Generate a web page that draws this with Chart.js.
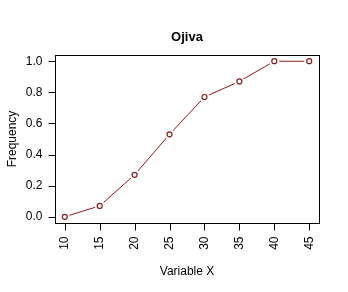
<!DOCTYPE html>
<html>
<head>
<meta charset="utf-8">
<script src="https://cdn.jsdelivr.net/npm/chart.js@4.4.1/dist/chart.umd.min.js"></script>
<style>
  html, body { margin: 0; padding: 0; background: #fff; }
  #wrap { width: 348px; height: 292px; }
</style>
</head>
<body>
<div id="wrap"><canvas id="ojiva" width="348" height="292"></canvas></div>
<script>
// datos de la ojiva
const xVals = [10, 15, 20, 25, 30, 35, 40, 45];
const freqAcum = [0, 0.07, 0.27, 0.53, 0.77, 0.87, 1.0, 1.0];
const xTicks = [10, 15, 20, 25, 30, 35, 40, 45];
const yTicks = [0.0, 0.2, 0.4, 0.6, 0.8, 1.0];

const rojo = '#8b1a1a';
const puntos = xVals.map((x, i) => ({ x: x, y: freqAcum[i] }));

// ejes estilo R dibujados a mano sobre las escalas
const ejesR = {
    id: 'ejesR',
    afterDraw(chart) {
        const c = chart.ctx, a = chart.chartArea;
        const sx = chart.scales.x, sy = chart.scales.y;
        c.save();
        c.strokeStyle = '#000';
        c.lineWidth = 1;
        c.strokeRect(Math.round(a.left) + 0.5, Math.round(a.top) + 0.5,
            Math.round(a.right - a.left), Math.round(a.bottom - a.top));

        c.fillStyle = '#000';
        c.font = '12px "Liberation Sans", Arial, sans-serif';

        // eje y
        c.beginPath();
        const y0 = Math.round(sy.getPixelForValue(yTicks[0])) + 0.5;
        const y1 = Math.round(sy.getPixelForValue(yTicks[yTicks.length - 1])) + 0.5;
        const xl = Math.round(a.left) + 0.5;
        yTicks.forEach(v => {
            const py = Math.round(sy.getPixelForValue(v)) + 0.5;
            c.moveTo(xl, py); c.lineTo(xl - 7, py);
        });
        c.stroke();
        c.textAlign = 'right';
        c.textBaseline = 'middle';
        yTicks.forEach(v => {
            c.fillText(v.toFixed(1), xl - 13, sy.getPixelForValue(v));
        });

        // eje x
        const yb = Math.round(a.bottom) + 0.5;
        c.beginPath();
        xTicks.forEach(v => {
            const px = Math.round(sx.getPixelForValue(v)) + 0.5;
            c.moveTo(px, yb); c.lineTo(px, yb + 7);
        });
        c.stroke();
        xTicks.forEach(v => {
            c.save();
            c.translate(sx.getPixelForValue(v), yb + 13);
            c.rotate(-Math.PI / 2);
            c.textAlign = 'right';
            c.textBaseline = 'middle';
            c.fillText(String(v), 0, 0);
            c.restore();
        });

        // titulos
        const cx = (a.left + a.right) / 2;
        c.textAlign = 'center';
        c.textBaseline = 'middle';
        c.font = 'bold 13px "Liberation Sans", Arial, sans-serif';
        c.fillText('Ojiva', cx, 37);
        c.font = '12px "Liberation Sans", Arial, sans-serif';
        c.fillText('Variable X', cx, 272);
        c.save();
        c.translate(13, (a.top + a.bottom) / 2);
        c.rotate(-Math.PI / 2);
        c.fillText('Frequency', 0, 0);
        c.restore();
        c.restore();
    }
};

new Chart(document.getElementById('ojiva'), {
    type: 'scatter',
    data: {
        datasets: [
            { data: puntos, showLine: true, borderColor: rojo, borderWidth: 1,
              pointRadius: 0, order: 3 },
            { data: puntos, showLine: false, pointRadius: 5, pointBorderWidth: 0,
              pointBackgroundColor: '#fff', pointBorderColor: '#fff', order: 2 },
            { data: puntos, showLine: false, pointRadius: 2.5, pointBorderWidth: 1.2,
              pointBackgroundColor: '#fff', pointBorderColor: rojo, order: 1 }
        ]
    },
    options: {
        responsive: false,
        animation: false,
        layout: { padding: { left: 55, right: 29, top: 55, bottom: 69 } },
        scales: {
            x: { type: 'linear', min: 8.6, max: 46.4, display: false },
            y: { type: 'linear', min: -0.04, max: 1.04, display: false }
        },
        plugins: { legend: { display: false }, tooltip: { enabled: false } }
    },
    plugins: [ejesR]
});
</script>
</body>
</html>
